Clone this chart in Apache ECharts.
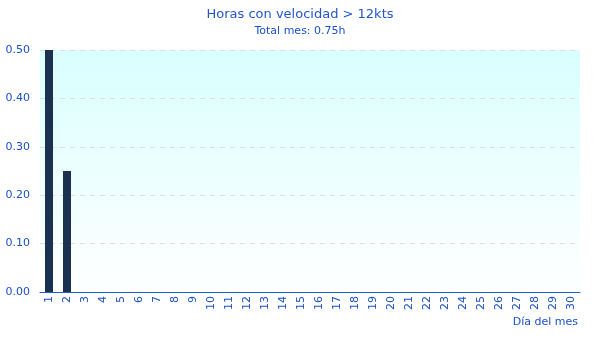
<!DOCTYPE html>
<html><head><meta charset="utf-8">
<script src="https://cdn.jsdelivr.net/npm/echarts@6/dist/echarts.min.js"></script>
<style>html,body{margin:0;padding:0;background:#fff}#c{width:600px;height:350px}</style>
</head><body><div id="c"></div>
<script>
const days = ['1','2','3','4','5','6','7','8','9','10','11','12','13','14','15','16','17','18','19','20','21','22','23','24','25','26','27','28','29','30'];
const hours = [0.5,0.25,0,0,0,0,0,0,0,0,0,0,0,0,0,0,0,0,0,0,0,0,0,0,0,0,0,0,0,0];
const titleText = 'Horas con velocidad > 12kts';
const subText = 'Total mes: 0.75h';
const blue = '#1a50c8';
const chart = echarts.init(document.getElementById('c'));
chart.setOption({
  animation: false,
  textStyle: {fontFamily: 'DejaVu Sans'},
  title: {text: titleText, subtext: subText, left: 'center', top: 3, itemGap: 5,
    textStyle: {color: '#2454d0', fontSize: 13, fontWeight: 'normal', fontFamily: 'DejaVu Sans'},
    subtextStyle: {color: '#1a50c8', fontSize: 11, fontFamily: 'DejaVu Sans'}},
  grid: {left: 40, right: 20, top: 50, bottom: 58, show: true, borderWidth: 0,
    containLabel: false, outerBoundsMode: 'none',
    backgroundColor: new echarts.graphic.LinearGradient(0,0,0,1,[{offset:0,color:'#d9ffff'},{offset:1,color:'#ffffff'}])},
  xAxis: {type: 'category', data: days,
    name: 'Día del mes', nameLocation: 'end', nameGap: 0,
    nameTextStyle: {color: blue, fontSize: 11, align: 'right', verticalAlign: 'top', padding: [25, 2, 0, 0]},
    axisLine: {lineStyle: {color: '#1565c8', width: 1}},
    axisTick: {length: 5, lineStyle: {color: '#1565c8'}},
    axisLabel: {rotate: 90, color: blue, fontSize: 11, margin: 4}},
  yAxis: {type: 'value', min: 0, max: 0.5, interval: 0.1,
    name: 'Horas', nameLocation: 'middle', nameGap: 29, nameRotate: 90,
    nameTextStyle: {color: blue, fontSize: 11},
    axisLine: {show: false}, axisTick: {show: false},
    axisLabel: {color: blue, fontSize: 11, margin: 10, formatter: v => v.toFixed(2)},
    splitLine: {lineStyle: {color: '#dddddd', type: [5,5]}}},
  series: [{type: 'bar', data: hours, barWidth: 8, itemStyle: {color: '#1b3152'}}]
});
</script></body></html>
